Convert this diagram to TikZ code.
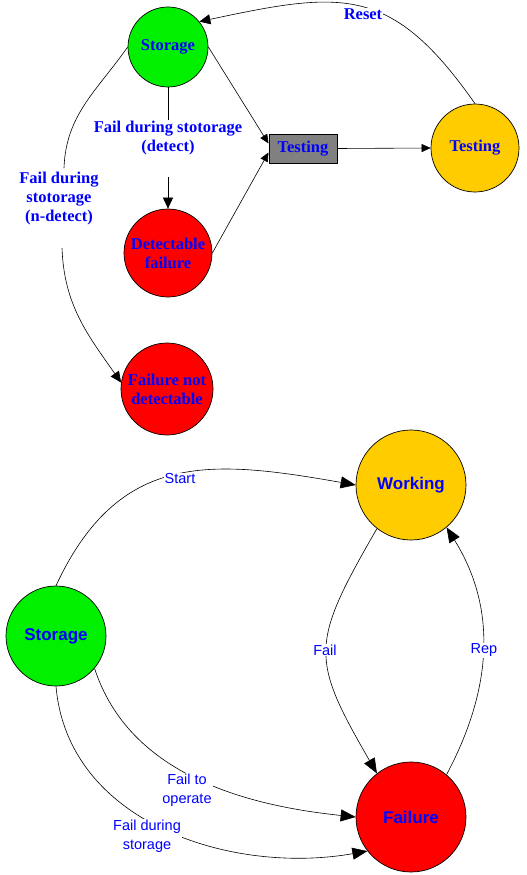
\documentclass[tikz,border=0pt]{standalone}
\usepackage{fontspec}
\setmainfont{Liberation Serif}
\setsansfont{Liberation Sans}
\usetikzlibrary{arrows.meta}
\definecolor{cgreen}{RGB}{0,240,0}
\definecolor{cyellow}{RGB}{255,204,0}
\definecolor{cred}{RGB}{255,0,0}
\definecolor{cgray}{RGB}{128,128,128}
\definecolor{cblue}{RGB}{0,0,255}
\begin{document}
\begin{tikzpicture}[x=1pt,y=-1pt,
  state/.style={circle,draw=black,line width=0.7pt,inner sep=0pt,align=center,text=cblue},
  tstate/.style={state,font=\fontsize{16.5}{19}\selectfont\bfseries},
  bstate/.style={state,font=\sffamily\bfseries\fontsize{17}{20}\selectfont},
  tbox/.style={rectangle,draw=black,line width=1pt,fill=cgray,text=cblue,minimum width=68pt,minimum height=29pt,inner sep=0pt,font=\fontsize{16.5}{19}\selectfont\bfseries},
  tlbl/.style={text=cblue,align=center,font=\fontsize{16.5}{19}\selectfont\bfseries,inner sep=1pt},
  blbl/.style={text=cblue,align=center,font=\sffamily\fontsize{14.5}{18.5}\selectfont,fill=white,inner sep=1pt},
  conn/.style={line width=0.6pt,draw=black},
  tarr/.style={conn,-{Triangle[length=11pt,width=10pt]}},
  sarr/.style={conn,-{Triangle[length=9pt,width=8pt]}},
  barr/.style={conn,-{Triangle[length=15pt,width=12pt]}},
]
\useasboundingbox (0,0) rectangle (527,875);
% ---------- top diagram ----------
\node[tstate,fill=cgreen,minimum size=80pt] (s1) at (168,47) {Storage};
\node[tbox] (tb) at (303,148.5) {Testing};
\node[tstate,fill=cyellow,minimum size=88pt] (t2) at (475,148) {Testing};
\node[tstate,fill=cred,minimum size=88pt] (df) at (168,253) {Detectable\\failure};
\node[tstate,fill=cred,minimum size=92pt] (fnd) at (167,389) {Failure not\\detectable};

\node[tlbl] (ldet) at (168,138) {Fail during stotorage\\(detect)};
\node[tlbl] (lnd) at (59,199) {Fail during\\stotorage\\(n-detect)};
\coordinate (dg) at (168,177);
\coordinate (nd1) at (64,168);
\coordinate (nd2) at (62,248);

\draw[tarr] (t2.north) to[out=125,in=12,looseness=1.3] (s1.39);
\node[tlbl,fill=white] (lreset) at (363,14) {Reset};
\draw[sarr] (s1.east) -- ([yshift=5pt]tb.west);
\draw[sarr] (df.east) -- ([yshift=-4pt]tb.west);
\draw[sarr] (tb.east) -- (t2.west);
\draw[conn] (s1.south) -- (ldet.north);
\draw[tarr] (dg) -- (df.north);
\draw[conn] (s1.west) to[out=235,in=88] (nd1);
\draw[tarr] (nd2) to[out=-88,in=125] (fnd.172);

% ---------- bottom diagram ----------
\node[bstate,fill=cyellow,minimum size=110pt] (w) at (411,485) {Working};
\node[bstate,fill=cgreen,minimum size=100pt] (st) at (56,636) {Storage};
\node[bstate,fill=cred,minimum size=110pt] (f) at (411,817) {Failure};

\draw[barr] (st.north) to[out=65,in=170,looseness=1.2] (w.west);
\draw[barr] (w.232) to[out=240,in=120,looseness=1.4] (f.128);
\draw[barr] (f.50) to[out=62,in=-58,looseness=1] (w.-50);
\draw[barr] (st.-40) to[out=-72,in=174,looseness=0.95] (f.west);
\draw[barr] (st.south) to[out=-85,in=190] (f.218);

\node[blbl] (lstart) at (180,479) {Start};
\node[blbl] (lfail) at (325,650) {Fail};
\node[blbl] (lrep) at (484,650) {Rep};
\node[blbl] (lfto) at (187,790) {Fail to\\operate};
\node[blbl] (lfds) at (147,836) {Fail during\\storage};
\end{tikzpicture}
\end{document}
